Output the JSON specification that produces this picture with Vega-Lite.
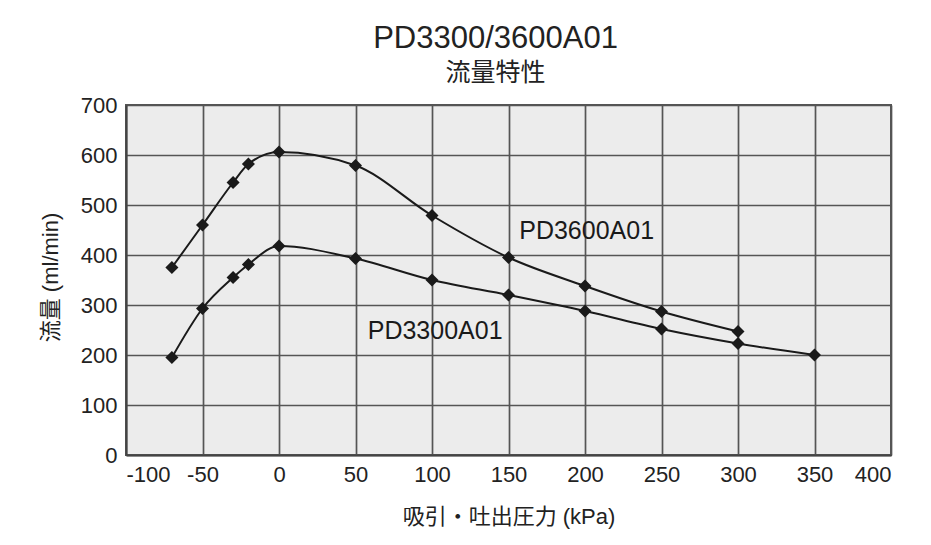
{
  "$schema": "https://vega.github.io/schema/vega-lite/v6.json",
  "autosize": "none",
  "width": 765,
  "height": 350,
  "padding": {"left": 126, "top": 105, "right": 40, "bottom": 90},
  "background": "#ffffff",
  "title": {
    "text": "PD3300/3600A01",
    "subtitle": "流量特性",
    "anchor": "middle",
    "frame": "group",
    "dx": -13,
    "offset": 7,
    "font": "Liberation Sans, Noto Sans CJK JP",
    "fontSize": 31,
    "fontWeight": "normal",
    "color": "#222222",
    "subtitleFont": "Noto Sans CJK JP",
    "subtitleFontSize": 25,
    "subtitleColor": "#222222",
    "subtitlePadding": 6
  },
  "config": {
    "view": {"stroke": "#555555", "strokeWidth": 2, "fill": "#ececec"},
    "axis": {
      "labelFont": "Liberation Sans",
      "labelFontSize": 22,
      "labelColor": "#222222",
      "titleFont": "Liberation Sans, Noto Sans CJK JP",
      "titleFontSize": 22,
      "titleFontWeight": "normal",
      "titleColor": "#222222",
      "gridColor": "#555555",
      "gridWidth": 1.7,
      "gridOpacity": 1,
      "domainColor": "#444444",
      "domainWidth": 2,
      "ticks": false,
      "tickSize": 0
    }
  },
  "datasets": {
    "curves": [
      {"model": "PD3600A01", "pressure": -70, "flow": 375},
      {"model": "PD3600A01", "pressure": -50, "flow": 460},
      {"model": "PD3600A01", "pressure": -30, "flow": 545},
      {"model": "PD3600A01", "pressure": -20, "flow": 582},
      {"model": "PD3600A01", "pressure": 0, "flow": 606},
      {"model": "PD3600A01", "pressure": 50, "flow": 579},
      {"model": "PD3600A01", "pressure": 100, "flow": 479},
      {"model": "PD3600A01", "pressure": 150, "flow": 395},
      {"model": "PD3600A01", "pressure": 200, "flow": 338},
      {"model": "PD3600A01", "pressure": 250, "flow": 287},
      {"model": "PD3600A01", "pressure": 300, "flow": 247},
      {"model": "PD3300A01", "pressure": -70, "flow": 195},
      {"model": "PD3300A01", "pressure": -50, "flow": 293},
      {"model": "PD3300A01", "pressure": -30, "flow": 355},
      {"model": "PD3300A01", "pressure": -20, "flow": 381},
      {"model": "PD3300A01", "pressure": 0, "flow": 418},
      {"model": "PD3300A01", "pressure": 50, "flow": 393},
      {"model": "PD3300A01", "pressure": 100, "flow": 350},
      {"model": "PD3300A01", "pressure": 150, "flow": 320},
      {"model": "PD3300A01", "pressure": 200, "flow": 288},
      {"model": "PD3300A01", "pressure": 250, "flow": 252},
      {"model": "PD3300A01", "pressure": 300, "flow": 223},
      {"model": "PD3300A01", "pressure": 350, "flow": 200}
    ],
    "labels": [
      {"label": "PD3600A01", "pressure": 157, "flow": 448},
      {"label": "PD3300A01", "pressure": 58, "flow": 248}
    ]
  },
  "encoding": {
    "x": {
      "field": "pressure",
      "type": "quantitative",
      "scale": {"domain": [-100, 400], "nice": false},
      "axis": {
        "values": [-100, -50, 0, 50, 100, 150, 200, 250, 300, 350, 400],
        "labelExpr": "replace(datum.label, '−', '-')",
        "title": "吸引・吐出圧力 (kPa)",
        "labelPadding": 9,
        "titleBaseline": "middle",
        "titleY": 61
      }
    },
    "y": {
      "field": "flow",
      "type": "quantitative",
      "scale": {"domain": [0, 700], "nice": false},
      "axis": {
        "values": [0, 100, 200, 300, 400, 500, 600, 700],
        "title": "流量 (ml/min)",
        "labelPadding": 9,
        "titleAngle": -90,
        "titleAlign": "center",
        "titleBaseline": "middle",
        "titleX": -76,
        "titleY": 172
      }
    }
  },
  "layer": [
    {
      "data": {"name": "curves"},
      "mark": {"type": "line", "interpolate": "monotone", "color": "#1a1a1a", "strokeWidth": 2},
      "encoding": {"detail": {"field": "model"}}
    },
    {
      "data": {"name": "curves"},
      "mark": {"type": "point", "shape": "diamond", "filled": true, "color": "#1a1a1a", "size": 170, "opacity": 1},
      "encoding": {"detail": {"field": "model"}}
    },
    {
      "data": {"name": "labels"},
      "mark": {"type": "text", "align": "left", "baseline": "middle", "font": "Liberation Sans", "fontSize": 25, "color": "#1a1a1a"},
      "encoding": {"text": {"field": "label"}}
    }
  ]
}
